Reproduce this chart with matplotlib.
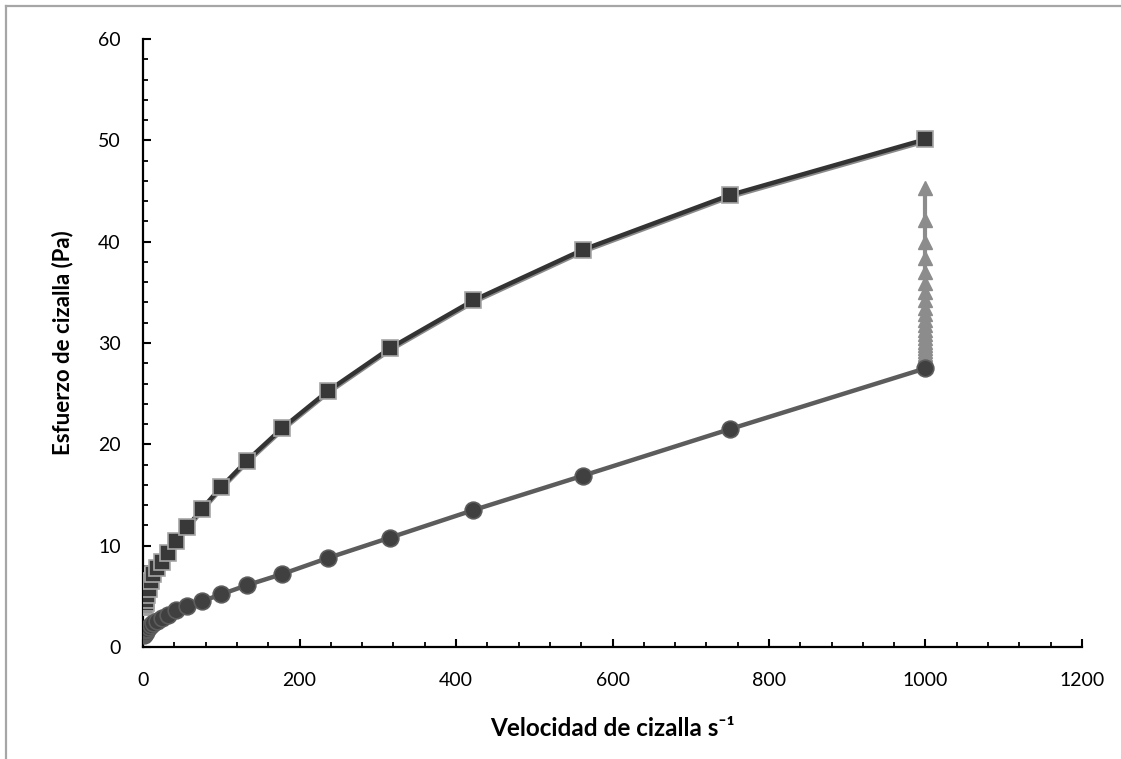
import matplotlib
matplotlib.use("Agg")
import matplotlib.pyplot as plt
from matplotlib.lines import Line2D
from matplotlib.ticker import MultipleLocator

# Shear rate steps (s^-1), logarithmic ramp
shear_rate = [1.0, 1.3, 1.8, 2.4, 3.2, 4.2, 5.6, 7.5, 10, 13, 18, 24, 32, 42,
              56, 75, 100, 133, 178, 237, 316, 422, 562, 750, 1000]

# Ascending ramp (two runs)
stress_up_a = [3.9, 3.95, 4.0, 4.1, 4.3, 4.6, 5.1, 5.7, 6.5, 7.2, 7.8, 8.4, 9.3, 10.5,
               11.8, 13.6, 15.8, 18.4, 21.6, 25.3, 29.5, 34.2, 39.2, 44.6, 50.1]
stress_up_b = [3.7, 3.75, 3.8, 3.9, 4.1, 4.4, 4.9, 5.5, 6.3, 7.0, 7.6, 8.2, 9.1, 10.3,
               11.6, 13.4, 15.6, 18.2, 21.4, 25.1, 29.3, 34.0, 39.0, 44.4, 49.9]

# Constant shear at 1000 s^-1
hold_rate = 1000
stress_hold = [45.3, 42.1, 40.0, 38.4, 37.0, 35.9, 35.0, 34.2, 33.5, 32.9, 32.3, 31.8,
               31.3, 30.9, 30.5, 30.1, 29.8, 29.5, 29.2, 28.9, 28.7, 28.5, 28.3, 28.1,
               27.9, 27.7]

# Descending ramp
stress_down = [1.2, 1.25, 1.3, 1.4, 1.5, 1.65, 1.8, 2.0, 2.2, 2.4, 2.6, 2.9, 3.2, 3.6,
               4.0, 4.5, 5.2, 6.1, 7.2, 8.8, 10.8, 13.5, 16.9, 21.5, 27.5]

plt.rcParams["font.family"] = ["Lato", "DejaVu Sans"]

fig = plt.figure(figsize=(11.21, 7.59), dpi=100)
ax = fig.add_axes([0.1276, 0.1476, 0.8376, 0.8010])

ax.plot(shear_rate, stress_up_b, color="#8a8a8a", lw=3, marker="x", ms=7,
        mec="#c8c8c8", mew=1.2, zorder=2)
ax.plot(shear_rate, stress_up_a, color="#333333", lw=3.2, marker="s", ms=11,
        mfc="#383838", mec="#a6a6a6", mew=1.2, zorder=3)
ax.plot([hold_rate] * len(stress_hold), stress_hold, color="#8c8c8c", lw=3,
        marker="^", ms=10, mfc="#8c8c8c", mec="#8c8c8c", zorder=4)
ax.plot(shear_rate, stress_down, color="#5c5c5c", lw=3.2, marker="o", ms=12,
        mfc="#404040", mec="#5c5c5c", mew=1.2, zorder=5)

ax.set_xlim(0, 1200)
ax.set_ylim(0, 60)
ax.xaxis.set_major_locator(MultipleLocator(200))
ax.xaxis.set_minor_locator(MultipleLocator(40))
ax.yaxis.set_major_locator(MultipleLocator(10))
ax.yaxis.set_minor_locator(MultipleLocator(2))

for side in ("top", "right"):
    ax.spines[side].set_visible(False)
for side in ("left", "bottom"):
    ax.spines[side].set_linewidth(1.6)
    ax.spines[side].set_color("black")

ax.tick_params(which="major", direction="in", length=5.5, width=1.5, labelsize=14)
ax.tick_params(which="minor", direction="in", length=3.5, width=1.3)
ax.tick_params(axis="x", which="major", pad=18)
ax.tick_params(axis="y", which="major", pad=16)

ax.set_xlabel("Velocidad de cizalla s⁻¹", fontsize=17.5, fontweight="bold",
              labelpad=20)
ax.set_ylabel("Esfuerzo de cizalla (Pa)", fontsize=16, fontweight="bold", labelpad=18)

# Frame of the chart area
fig.add_artist(Line2D([6 / 1121, 6 / 1121], [0, 1 - 6 / 759], color="#a6a6a6", lw=1.6,
                      transform=fig.transFigure))
fig.add_artist(Line2D([6 / 1121, 1], [1 - 6 / 759, 1 - 6 / 759], color="#a6a6a6", lw=1.6,
                      transform=fig.transFigure))

fig.savefig("out.png", dpi=100)
